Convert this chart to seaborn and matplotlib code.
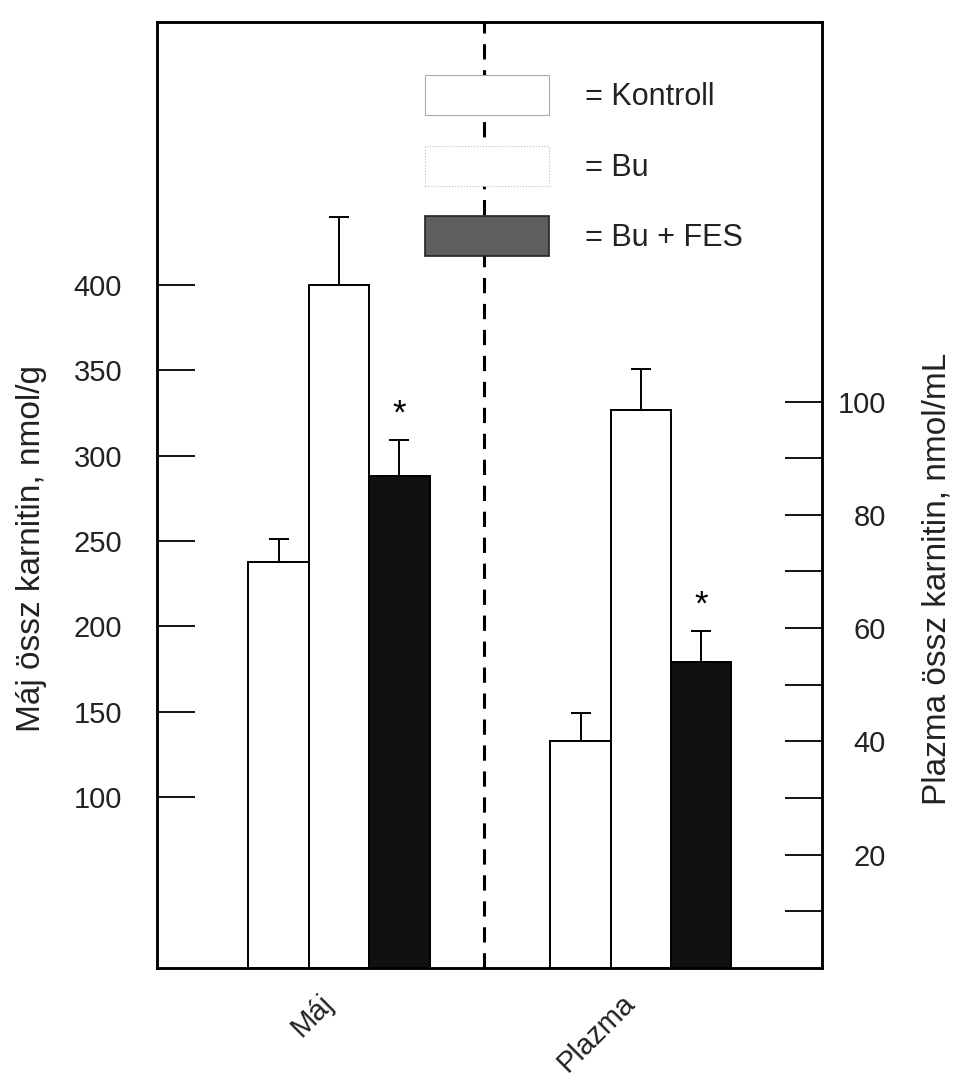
import numpy as np
import pandas as pd
import matplotlib
matplotlib.use("Agg")
import matplotlib.pyplot as plt
import seaborn as sns
from matplotlib.patches import Patch
from matplotlib.ticker import FixedLocator

# ---------------- data ----------------
groups = ["Máj", "Plazma"]
treatments = ["Kontroll", "Bu", "Bu + FES"]
maj_values = [238, 400, 288]
maj_errors = [13, 40, 21]
plazma_values = [40, 98.5, 54]
plazma_errors = [5, 7.3, 5.5]
significant = [False, False, True]
left_ticks = [100, 150, 200, 250, 300, 350, 400]
right_major_ticks = [20, 40, 60, 80, 100]
right_minor_ticks = [10, 30, 50, 70, 90]
left_label = "Máj össz karnitin, nmol/g"
right_label = "Plazma össz karnitin, nmol/mL"
legend_labels = ["= Kontroll", "= Bu", "= Bu + FES"]
DIVIDER_X = 0.48

# ---------------- style ----------------
sns.set_theme(style="white")
plt.rcParams['font.family'] = ['Liberation Sans', 'DejaVu Sans']
TXT = "#222222"

fig = plt.figure(figsize=(9.57, 10.88), dpi=100)
ax = fig.add_axes([0.164, 0.1103, 0.695, 0.8695])
ax2 = ax.twinx()

df_maj = pd.DataFrame({"group": "Máj", "treatment": treatments, "value": maj_values})
df_pl = pd.DataFrame({"group": "Plazma", "treatment": treatments, "value": plazma_values})
palette = {"Kontroll": "white", "Bu": "white", "Bu + FES": "#111111"}

for a, d, errs in ((ax, df_maj, maj_errors), (ax2, df_pl, plazma_errors)):
    sns.barplot(data=d, x="group", y="value", hue="treatment", order=groups,
                hue_order=treatments, palette=palette, width=0.6,
                edgecolor="black", linewidth=1.4, ax=a, legend=False,
                errorbar=None, saturation=1)
    bars = sorted(a.patches, key=lambda p: p.get_x())
    xs = [p.get_x() + p.get_width() / 2 for p in bars]
    tops = [p.get_height() for p in bars]
    a.errorbar(xs, tops, yerr=[[0] * len(errs), errs], fmt="none",
               ecolor="black", elinewidth=1.4, capsize=7, capthick=1.4, zorder=3)
    for x, t, e, s in zip(xs, tops, errs, significant):
        if s:
            a.annotate("*", (x, t + e), xytext=(0, 7), textcoords="offset points",
                       ha="center", va="bottom", fontsize=25, color="black")

ax.set_xlim(-0.603, 1.6)
ax.axvline(DIVIDER_X, color="black", lw=2.2, ls=(0, (5, 3.5)), zorder=1)

# left axis
ax.set_ylim(0, 554)
ax.set_yticks(left_ticks)
ax.tick_params(axis="y", direction="in", length=27, width=1.3, pad=25,
               labelsize=21, labelcolor=TXT, left=True, right=False, color="black")
ax.set_ylabel(left_label, fontsize=24, color=TXT)
ax.yaxis.set_label_coords(-0.165, 0.443)

# x axis
ax.set_xticks(range(len(groups)))
ax.set_xticklabels(groups, rotation=45, ha="right", fontsize=21, color=TXT)
ax.tick_params(axis="x", length=0, pad=15, bottom=False)
ax.set_xlabel("")

# right axis
ax2.set_ylim(0, 167)
ax2.yaxis.set_major_locator(FixedLocator(right_major_ticks))
ax2.yaxis.set_minor_locator(FixedLocator(right_minor_ticks))
ax2.tick_params(axis="y", which="both", direction="in", length=27, width=1.3,
                right=True, left=False, color="black")
ax2.tick_params(axis="y", which="major", pad=46, labelsize=21, labelcolor=TXT)
for lab in ax2.get_yticklabels():
    lab.set_horizontalalignment("right")
ax2.set_ylabel(right_label, fontsize=24, color=TXT)
ax2.yaxis.set_label_coords(1.15, 0.411)

for a in (ax, ax2):
    for sp in a.spines.values():
        sp.set_color("black")
        sp.set_linewidth(1.8)

handles = [
    Patch(facecolor="white", edgecolor="#aaaaaa", linewidth=0.8),
    Patch(facecolor="white", edgecolor="#bbbbbb", linewidth=0.8, linestyle=":"),
    Patch(facecolor="#5e5e5e", edgecolor="#222222", linewidth=1.2),
]
leg = ax2.legend(handles, legend_labels, loc="upper left", bbox_to_anchor=(0.403, 0.944),
                 frameon=False, fontsize=22, handlelength=4.06, handleheight=1.64,
                 handletextpad=1.18, labelspacing=1.0, borderpad=0, borderaxespad=0)
for t in leg.get_texts():
    t.set_color(TXT)

fig.savefig("out.png", dpi=100, facecolor="white")
